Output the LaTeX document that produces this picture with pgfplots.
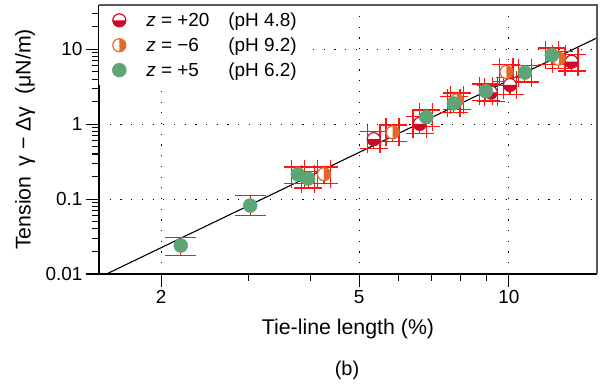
\documentclass[border=0pt]{standalone}
\usepackage{pgfplots}
\pgfplotsset{compat=1.18}
\usepackage{fontspec}
\setmainfont{Liberation Sans}
\definecolor{zred}{RGB}{205,10,40}
\definecolor{zorange}{RGB}{228,105,40}
\definecolor{zgreen}{RGB}{92,166,118}
\definecolor{ebred}{RGB}{255,20,20}

\pgfdeclareplotmark{halfbottom}{%
  \pgfsetfillcolor{white}%
  \pgfpathcircle{\pgfpointorigin}{\pgfplotmarksize}\pgfusepath{fill}%
  \pgfsetfillcolor{zred}%
  \pgfpathmoveto{\pgfqpoint{\pgfplotmarksize}{0pt}}%
  \pgfpatharc{0}{-180}{\pgfplotmarksize}%
  \pgfpathclose\pgfusepath{fill}%
  \pgfsetstrokecolor{zred}%
  \pgfpathcircle{\pgfpointorigin}{\pgfplotmarksize}\pgfusepath{stroke}%
}
\pgfdeclareplotmark{halfright}{%
  \pgfsetfillcolor{white}%
  \pgfpathcircle{\pgfpointorigin}{\pgfplotmarksize}\pgfusepath{fill}%
  \pgfsetfillcolor{zorange}%
  \pgfpathmoveto{\pgfqpoint{0pt}{\pgfplotmarksize}}%
  \pgfpatharc{90}{-90}{\pgfplotmarksize}%
  \pgfpathclose\pgfusepath{fill}%
  \pgfsetstrokecolor{zorange}%
  \pgfpathcircle{\pgfpointorigin}{\pgfplotmarksize}\pgfusepath{stroke}%
}

\pgfplotstableread{
x y ex ey
5.35 0.631 0.16 0.158
6.62 1.01 0.20 0.25
9.20 2.65 0.28 0.66
10.05 3.34 0.30 0.83
13.37 6.83 0.40 1.71
}\redtab
\pgfplotstableread{
x y ex ey
4.25 0.215 0.13 0.054
5.84 0.778 0.175 0.195
7.86 2.08 0.236 0.52
9.89 4.98 0.30 1.245
12.6 7.47 0.38 1.87
}\orangetab
\pgfplotstableread{
x y eyp eym
2.19 0.024 0.0068 0.0065
3.02 0.082 0.029 0.022
}\greenlowtab
\pgfplotstableread{
x y ex ey
3.765 0.214 0.113 0.0535
3.95 0.1876 0.12 0.047
6.825 1.24 0.205 0.31
7.75 1.894 0.23 0.47
8.99 2.75 0.27 0.69
10.77 4.88 0.32 1.22
12.2 8.32 0.37 2.08
}\greentab

\begin{document}
\begin{tikzpicture}
\path[use as bounding box] (0,0) rectangle (603bp,389bp);
\begin{axis}[
  name=ax,
  at={(99bp,115bp)}, anchor=south west,
  scale only axis, width=498bp, height=269bp,
  xmode=log, ymode=log,
  xmin=1.5, xmax=15.04, ymin=0.01, ymax=39,
  axis lines*=left,
  axis line style={line width=1.3bp, black},
  xtick={2,5,10}, xticklabels={2,5,10},
  ytick={0.01,0.1,1,10}, yticklabels={0.01,0.1,1,10},
  minor xtick={3,4,6,7,8,9},
  minor ytick={0.02,0.03,0.04,0.05,0.06,0.07,0.08,0.09,0.2,0.3,0.4,0.5,0.6,0.7,0.8,0.9,2,3,4,5,6,7,8,9,20,30},
  tick align=outside,
  major tick length=13bp, minor tick length=7bp,
  every tick/.style={line width=1.1bp, black},
  grid=major,
  major grid style={black, line width=1bp, dash pattern=on 1.2bp off 9.5bp},
  ticklabel style={font=\fontsize{19}{22}\selectfont},
  /pgf/number format/assume math mode=true,
  xlabel={Tie-line length (\%)}, ylabel={Tension\hspace{4bp} γ − Δγ\hspace{12bp}(μN/m)},
  label style={font=\fontsize{21.4}{25}\selectfont},
  xlabel style={at={(axis description cs:0.5,-0.2045)}, anchor=center},
  ylabel style={at={(axis description cs:-0.1486,0.5)}, anchor=center},
  legend style={at={(axis description cs:0,1)}, anchor=north west, draw=none, fill=white,
    inner xsep=13bp, inner ysep=5.5bp, font=\fontsize{19}{22}\selectfont, row sep=5.7bp,
    /tikz/every odd column/.append style={column sep=18bp}},
  legend cell align=left,
  legend image code/.code={\draw[#1] plot coordinates {(7bp,0bp)};},
  error bars/error mark=-,
  error bars/error mark options={rotate=90, line width=1.2bp, mark size=14bp},
  error bars/error bar style={line width=1.2bp},
  errs/.style={ebred, only marks, mark=none, forget plot},
]
\addplot[black, line width=1.1bp, no marks, forget plot] coordinates {(1.5,0.00895) (15.04,14.2)};
% red series
\addplot[errs, error bars/.cd, x dir=both, x explicit, y dir=both, y explicit]
  table[x=x, y=y, x error=ex, y error=ey] {\redtab};
\addplot[only marks, mark=halfbottom, mark size=6.5bp, line width=1.2bp, zred]
  table[x=x, y=y] {\redtab};
\addlegendentry{\makebox[82bp][l]{\textit{z} = +20}(pH 4.8)}
% orange series
\addplot[errs, error bars/.cd, x dir=both, x explicit, y dir=both, y explicit]
  table[x=x, y=y, x error=ex, y error=ey] {\orangetab};
\addplot[only marks, mark=halfright, mark size=6.5bp, line width=1.2bp, zorange]
  table[x=x, y=y] {\orangetab};
\addlegendentry{\makebox[82bp][l]{\textit{z} = −6}(pH 9.2)}
% green series
\addplot[errs, error bars/.cd, y dir=both, y explicit, error mark options={rotate=90, line width=1.3bp, mark size=15.5bp}]
  table[x=x, y=y, y error plus=eyp, y error minus=eym] {\greenlowtab};
\addplot[errs, error bars/.cd, x dir=both, x explicit, y dir=both, y explicit]
  table[x=x, y=y, x error=ex, y error=ey] {\greentab};
\addplot[only marks, mark=*, mark size=7bp, zgreen, forget plot]
  table[x=x, y=y] {\greenlowtab};
\addplot[only marks, mark=*, mark size=7bp, zgreen]
  table[x=x, y=y] {\greentab};
\addlegendentry{\makebox[82bp][l]{\textit{z} = +5}(pH 6.2)}
\end{axis}
\draw[line width=2bp, black!65] (ax.north west) -- (ax.north east) -- (ax.south east);
\node[font=\fontsize{20}{24}\selectfont] at (347bp,19bp) {(b)};
\end{tikzpicture}
\end{document}
